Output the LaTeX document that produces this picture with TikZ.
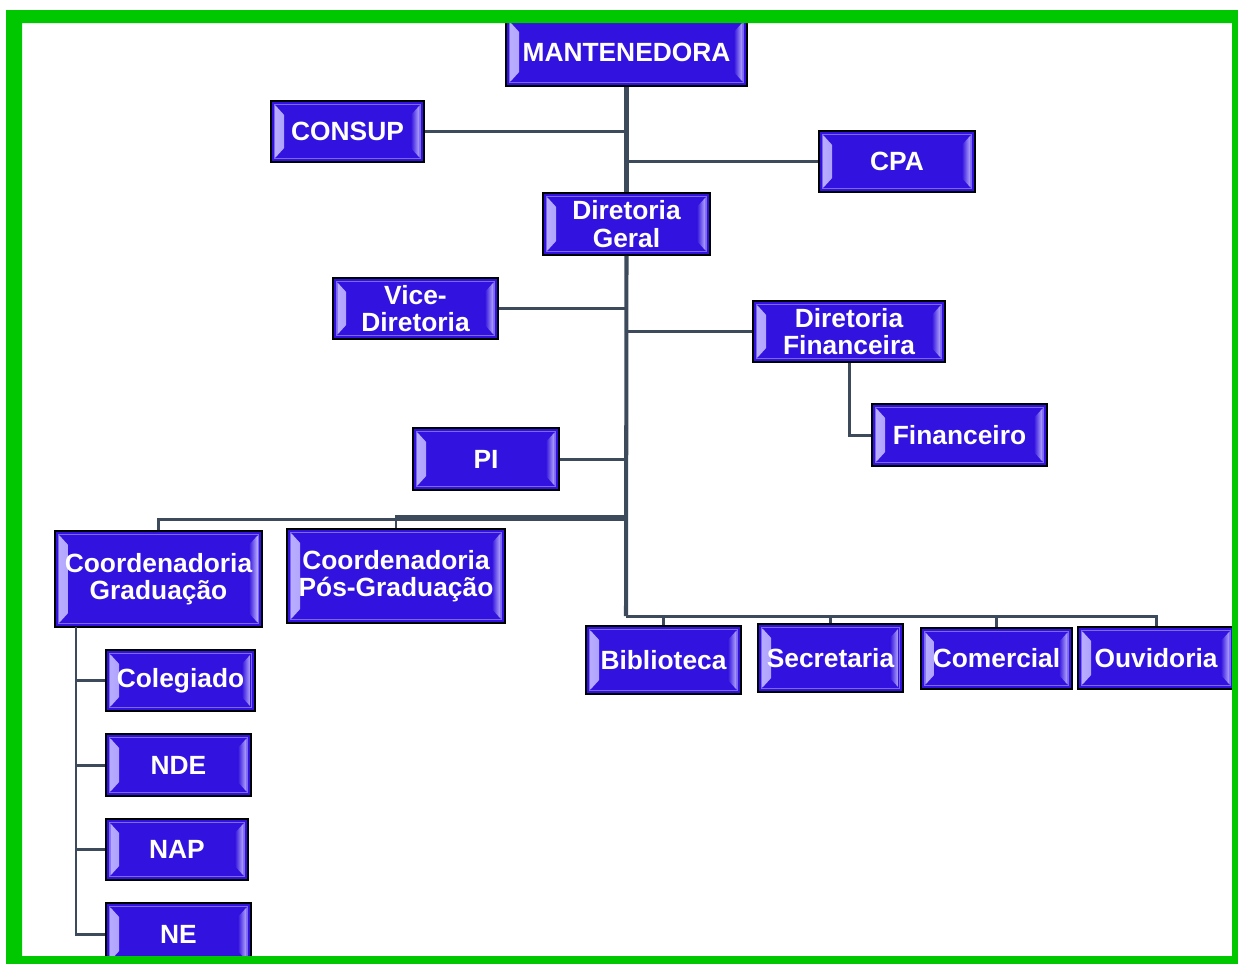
\documentclass[tikz,border=0pt]{standalone}
\usepackage{fontspec}
\setsansfont{Liberation Sans}
\usepackage{tikz}
\usetikzlibrary{calc}
\usetikzlibrary{positioning}

\definecolor{orgblue}{RGB}{50,18,222}
\definecolor{bevlight}{RGB}{186,176,255}
\definecolor{linegray}{RGB}{60,74,92}
\definecolor{framegreen}{RGB}{0,200,0}

% bevel strips on both sides of a box
\newcommand{\orgbevel}{%
  \fill[left color=bevlight, right color=orgblue]
    ([shift={(2.5pt,-2.5pt)}]path picture bounding box.north west) --
    ([shift={(7.5pt,-8pt)}]path picture bounding box.north west) --
    ([shift={(7.5pt,8pt)}]path picture bounding box.south west) --
    ([shift={(2.5pt,2.5pt)}]path picture bounding box.south west) -- cycle;
  \fill[left color=orgblue, right color=bevlight]
    ([shift={(-2.5pt,-2.5pt)}]path picture bounding box.north east) --
    ([shift={(-7.5pt,-8pt)}]path picture bounding box.north east) --
    ([shift={(-7.5pt,8pt)}]path picture bounding box.south east) --
    ([shift={(-2.5pt,2.5pt)}]path picture bounding box.south east) -- cycle;
  \draw[bevlight!55!orgblue, line width=0.8pt]
    ([shift={(2pt,-2pt)}]path picture bounding box.north west) rectangle
    ([shift={(-2pt,2pt)}]path picture bounding box.south east);
}

\tikzset{
  orgbox/.style={draw=black, line width=1.1pt, fill=orgblue, text=white,
    font=\sffamily\bfseries\fontsize{15}{15.5}\selectfont, align=center,
    inner sep=0pt, path picture={\orgbevel}},
  branch/.style={draw=linegray, line width=1.7pt},
  trunk/.style={draw=linegray, line width=2.3pt},
}

\begin{document}
\begin{tikzpicture}[x=0.02cm, y=-0.02cm]
\useasboundingbox (0,0) rectangle (1238,964);
\fill[white] (0,0) rectangle (1238,964);

% points def
\coordinate (fork) at (626,616);
\coordinate (coordfork) at (626,519);
\coordinate (gradtrunk) at (76,627);

% boxes
\node[orgbox, minimum width=4.82cm, minimum height=1.36cm] (mant) at (626.5,52) {MANTENEDORA};
\node[orgbox, minimum width=3.06cm, minimum height=1.22cm] (consup) at (347.5,131.5) {CONSUP};
\node[orgbox, minimum width=3.12cm, minimum height=1.22cm] (cpa) at (897,161.5) {CPA};
\node[orgbox, minimum width=3.34cm, minimum height=1.24cm] (dirgeral) at (626.5,224) {Diretoria\\Geral};
\node[orgbox, minimum width=3.30cm, minimum height=1.22cm] (vicedir) at (415.5,308.5) {Vice-\\Diretoria};
\node[orgbox, minimum width=3.84cm, minimum height=1.22cm] (dirfin) at (849,331.5) {Diretoria\\Financeira};
\node[orgbox, minimum width=3.50cm, minimum height=1.24cm] (financeiro) at (959.5,435) {Financeiro};
\node[orgbox, minimum width=2.92cm, minimum height=1.24cm] (pi) at (486,459) {PI};
\node[orgbox, minimum width=4.14cm, minimum height=1.92cm] (coordgrad) at (158.5,579) {Coordenadoria\\Graduação};
\node[orgbox, minimum width=4.36cm, minimum height=1.88cm] (coordpos) at (396,576) {Coordenadoria\\Pós-Graduação};
\node[orgbox, minimum width=3.10cm, minimum height=1.36cm] (biblioteca) at (663.5,660) {Biblioteca};
\node[orgbox, minimum width=2.90cm, minimum height=1.36cm] (secretaria) at (830.5,658) {Secretaria};
\node[orgbox, minimum width=3.02cm, minimum height=1.22cm] (comercial) at (996.5,658.5) {Comercial};
\node[orgbox, minimum width=3.12cm, minimum height=1.24cm] (ouvidoria) at (1156,658) {Ouvidoria};
\node[orgbox, minimum width=2.98cm, minimum height=1.22cm] (colegiado) at (180.5,680.5) {Colegiado};
\node[orgbox, minimum width=2.90cm, minimum height=1.24cm] (nde) at (178.5,765) {NDE};
\node[orgbox, minimum width=2.84cm, minimum height=1.22cm] (nap) at (177,849.5) {NAP};
\node[orgbox, minimum width=2.90cm, minimum height=1.24cm] (ne) at (178.5,934) {NE};

% lines
\draw[trunk] (mant.south) -- (dirgeral.north);
\draw[branch] (consup.east) -- (consup.east -| mant.south);
\draw[branch] (cpa.west) -- (cpa.west -| mant.south);
\draw[trunk] (dirgeral.south) -- (fork);
\draw[branch] (vicedir.east) -- (vicedir.east -| dirgeral.south);
\draw[branch] (dirfin.west) -- (dirfin.west -| dirgeral.south);
\draw[branch] (dirfin.south) |- (financeiro.west);
\draw[branch] (pi.east) -- (pi.east -| dirgeral.south);
\draw[branch] (coordfork) -| (coordgrad.north);
\draw[branch] ([yshift=1.5pt]coordfork) -| (coordpos.north);
\foreach \n in {biblioteca, secretaria, comercial, ouvidoria}
  \draw[branch] (fork) -| (\n.north);
\draw[branch] (gradtrunk) |- (ne.west);
\foreach \n in {colegiado, nde, nap}
  \draw[branch] (gradtrunk |- \n.west) -- (\n.west);

% frame
\fill[framegreen, even odd rule] (6,10) rectangle (1238,964) (22,23) rectangle (1232,956);
\end{tikzpicture}
\end{document}
